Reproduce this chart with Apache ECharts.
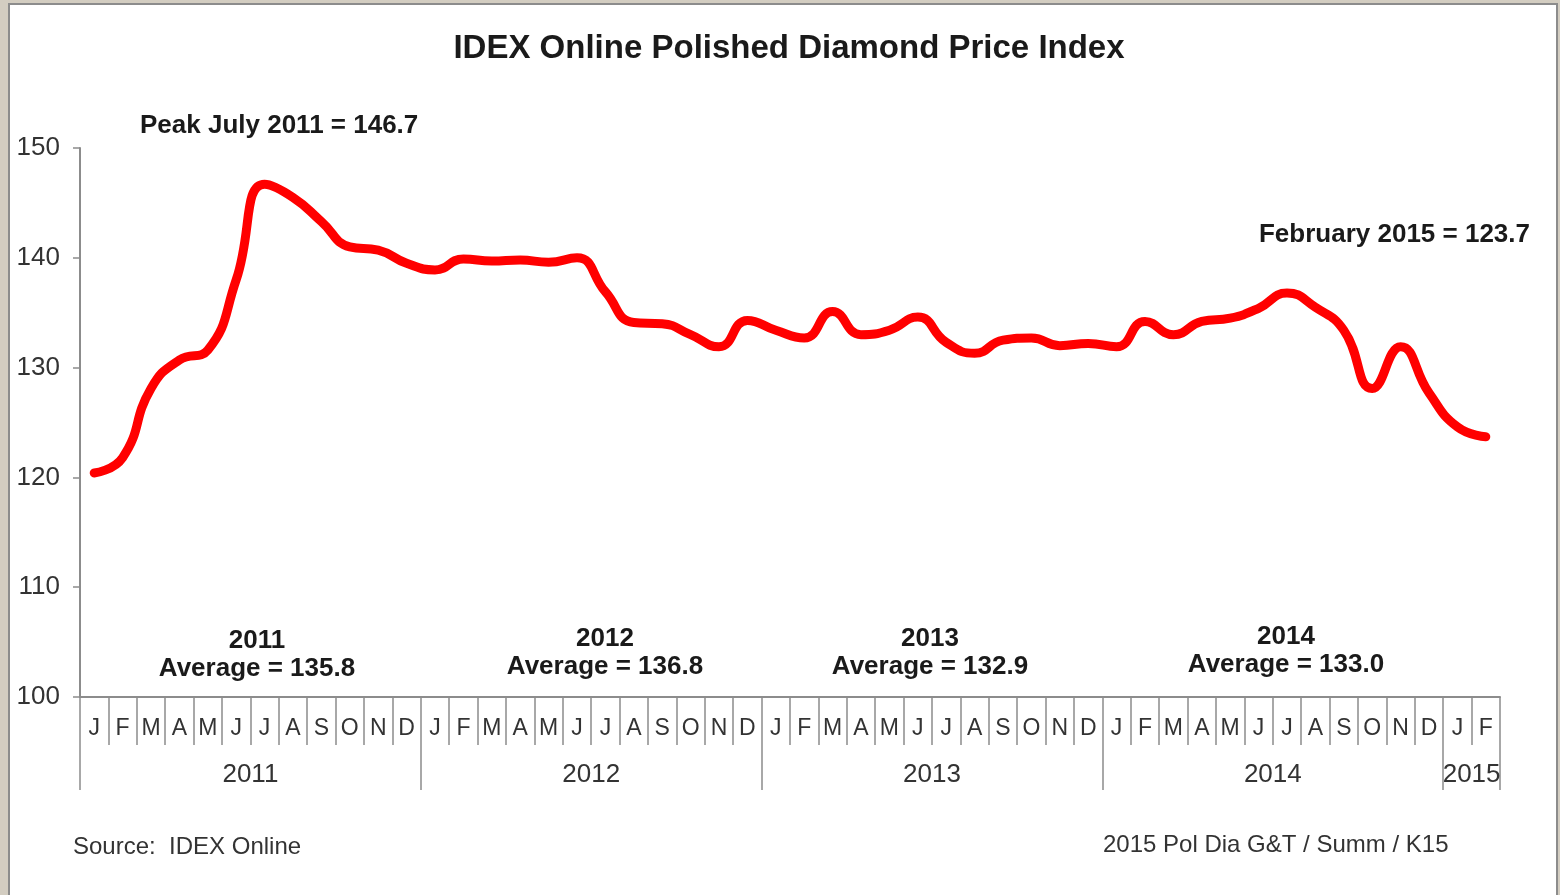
<!DOCTYPE html>
<html>
<head>
<meta charset="utf-8">
<title>IDEX Online Polished Diamond Price Index</title>
<script src="https://cdn.jsdelivr.net/npm/echarts@6/dist/echarts.min.js"></script>
<style>
    html, body {
        margin: 0;
        padding: 0;
        overflow: hidden;
        background: #d3cdc1;
    }
    .panel {
        position: absolute;
        left: 8px;
        top: 3px;
        width: 1546px;
        height: 900px;
        border: 2px solid #8c8c8c;
        background: #fff;
    }
    #chart {
        position: absolute;
        left: 0;
        top: 0;
        width: 1560px;
        height: 895px;
    }
</style>
</head>
<body>
<div class="panel"></div>
<div id="chart"></div>
<script>
// month letters, Jan 2011 .. Feb 2015
const monthLetters = [
    'J','F','M','A','M','J','J','A','S','O','N','D',
    'J','F','M','A','M','J','J','A','S','O','N','D',
    'J','F','M','A','M','J','J','A','S','O','N','D',
    'J','F','M','A','M','J','J','A','S','O','N','D',
    'J','F'
];
const priceIndex = [
    120.4, 121.8, 128.1, 130.7, 131.6, 138.0, 146.7, 145.5, 143.3, 141.0, 140.7, 139.5,
    138.9, 139.9, 139.7, 139.8, 139.6, 140.0, 136.9, 134.1, 134.0, 133.0, 131.9, 134.3,
    133.4, 132.7, 135.1, 133.0, 133.4, 134.6, 132.3, 131.3, 132.5, 132.7, 132.0, 132.2,
    131.9, 134.2, 133.0, 134.2, 134.5, 135.4, 136.8, 135.5, 133.4, 128.1, 131.9, 127.7,
    124.6, 123.7
];
const years = ['2011', '2012', '2013', '2014', '2015'];
const yearBounds = [0, 12, 24, 36, 48, 50];
const yearMids = [6, 18, 30, 42, 49];
const avgYears = ['2011', '2012', '2013', '2014'];
const avgValues = ['135.8', '136.8', '132.9', '133.0'];
const yTicks = [100, 110, 120, 130, 140, 150];

const font = 'Liberation Sans, Arial, sans-serif';
const axisGray = '#8c8c8c';

const chart = echarts.init(document.getElementById('chart'));

// where the year average notes sit
const avgPos = [[257, 655], [605, 653], [930, 653], [1286, 651]];

chart.setOption({
    animation: false,
    textStyle: { fontFamily: font },
    title: {
        text: 'IDEX Online Polished Diamond Price Index',
        left: 784,
        top: 27,
        textAlign: 'center',
        textStyle: { fontFamily: font, fontSize: 33, fontWeight: 'bold', color: '#1a1a1a' }
    },
    grid: { left: 80, right: 60, top: 148, bottom: 198 },
    xAxis: [
        {
            type: 'category',
            data: monthLetters,
            boundaryGap: true,
            axisLine: { lineStyle: { color: axisGray, width: 2 } },
            axisTick: { show: true, interval: 0, length: 48, lineStyle: { color: axisGray, width: 1.5 } },
            axisLabel: { interval: 0, margin: 20, fontSize: 23, color: '#333', fontFamily: font },
            splitLine: { show: false }
        },
        {
            type: 'value',
            min: 0,
            max: 50,
            position: 'bottom',
            axisLine: { show: false },
            axisTick: {
                show: true,
                length: 93,
                customValues: yearBounds,
                lineStyle: { color: axisGray, width: 1.5 }
            },
            axisLabel: {
                customValues: yearMids,
                margin: 65,
                fontSize: 26,
                color: '#333',
                fontFamily: font,
                formatter: v => years[yearMids.indexOf(v)]
            },
            splitLine: { show: false }
        }
    ],
    yAxis: {
        type: 'value',
        min: 100,
        max: 150,
        interval: 10,
        axisLine: { show: true, lineStyle: { color: axisGray, width: 2 } },
        axisTick: { show: true, length: 7, lineStyle: { color: axisGray, width: 1.5 } },
        axisLabel: { margin: 20, fontSize: 26, color: '#333', fontFamily: font,
            formatter: v => yTicks.indexOf(v) >= 0 ? String(v) : '' },
        splitLine: { show: false }
    },
    series: [
        {
            name: 'Price Index',
            type: 'line',
            xAxisIndex: 0,
            data: priceIndex,
            smooth: 0.5,
            showSymbol: false,
            lineStyle: { color: '#ff0000', width: 9, cap: 'round', join: 'round' }
        }
    ],
    graphic: [
        {
            type: 'text', left: 140, top: 113,
            style: { text: 'Peak July 2011 = 146.7', font: 'bold 26px ' + font, fill: '#1a1a1a' }
        },
        {
            type: 'text', right: 30, top: 222,
            style: { text: 'February 2015 = 123.7', font: 'bold 26px ' + font, fill: '#1a1a1a' }
        },
        ...avgYears.map((y, i) => ({
            type: 'text',
            x: avgPos[i][0],
            y: avgPos[i][1],
            style: {
                text: y + '\nAverage = ' + avgValues[i],
                font: 'bold 26px ' + font,
                fill: '#1a1a1a',
                align: 'center',
                verticalAlign: 'middle',
                lineHeight: 28
            }
        })),
        {
            type: 'text', left: 73, top: 835,
            style: { text: 'Source:  IDEX Online', font: '24px ' + font, fill: '#333' }
        },
        {
            type: 'text', left: 1103, top: 833,
            style: { text: '2015 Pol Dia G&T / Summ / K15', font: '24px ' + font, fill: '#333' }
        }
    ]
});
</script>
</body>
</html>
